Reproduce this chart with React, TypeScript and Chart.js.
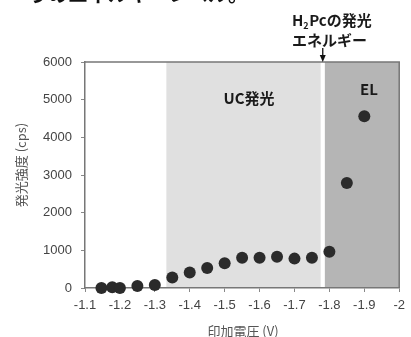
import React, { useEffect, useRef } from "react";
import { Chart, registerables } from "chart.js";

Chart.register(...registerables);

const voltages = [-1.147, -1.178, -1.2, -1.25, -1.3, -1.35, -1.4, -1.45, -1.5, -1.55, -1.6, -1.65, -1.7, -1.75, -1.8, -1.85, -1.9];
const intensities = [0, 20, 0, 50, 80, 280, 410, 530, 660, 800, 800, 830, 780, 800, 960, 2790, 4560];
const ucRegion = [-1.333, -1.775];
const elRegion = [-1.787, -2];
const h2pcEnergy = -1.781;
const xTicksRange = [-2, -1.1];
const yTicksRange = [0, 6000];

const xTitle = "印加電圧 (V)";
const yTitle = "発光強度 (cps)";
const ucLabel = "UC発光";
const elLabel = "EL";
const topFragment = "うのエネルギーレベル。";

const JP = '"Noto Sans CJK JP", "Liberation Sans", sans-serif';

const decorPlugin = {
  id: "decor",
  beforeDraw(chart: any) {
    const { ctx, chartArea, scales } = chart;
    const x = scales.x;
    ctx.save();
    const top = chartArea.top;
    const h = chartArea.bottom - chartArea.top;
    let x0 = x.getPixelForValue(ucRegion[0]);
    let x1 = x.getPixelForValue(ucRegion[1]);
    ctx.fillStyle = "#e0e0e0";
    ctx.fillRect(x0, top, x1 - x0, h);
    x0 = x.getPixelForValue(elRegion[0]);
    x1 = x.getPixelForValue(elRegion[1]);
    ctx.fillStyle = "#b5b5b5";
    ctx.fillRect(x0, top, x1 - x0, h);
    ctx.restore();
  },
  afterDraw(chart: any) {
    const { ctx, chartArea, scales } = chart;
    const x = scales.x;
    ctx.save();
    // frame top and right
    ctx.strokeStyle = "#777";
    ctx.lineWidth = 1.5;
    ctx.beginPath();
    ctx.moveTo(chartArea.left, chartArea.top);
    ctx.lineTo(chartArea.right, chartArea.top);
    ctx.lineTo(chartArea.right, chartArea.bottom);
    ctx.stroke();

    // region labels
    ctx.fillStyle = "#1a1a1a";
    ctx.font = `bold 15px ${JP}`;
    ctx.textAlign = "center";
    ctx.textBaseline = "middle";
    ctx.fillText(ucLabel, 249, 98);
    ctx.fillText(elLabel, 369, 89);

    // H2Pc annotation
    ctx.textAlign = "left";
    ctx.textBaseline = "alphabetic";
    let tx = 292;
    ctx.font = `bold 15px ${JP}`;
    ctx.fillText("H", tx, 26);
    tx += ctx.measureText("H").width;
    ctx.font = `bold 9px ${JP}`;
    ctx.fillText("2", tx, 29);
    tx += ctx.measureText("2").width + 0.5;
    ctx.font = `bold 15px ${JP}`;
    ctx.fillText("Pcの発光", tx, 26);
    ctx.fillText("エネルギー", 292, 46);

    // arrow
    const ax = x.getPixelForValue(h2pcEnergy);
    ctx.strokeStyle = "#111";
    ctx.lineWidth = 1.3;
    ctx.beginPath();
    ctx.moveTo(ax, 48);
    ctx.lineTo(ax, 58);
    ctx.stroke();
    ctx.fillStyle = "#111";
    ctx.beginPath();
    ctx.moveTo(ax - 3, 55);
    ctx.lineTo(ax + 3, 55);
    ctx.lineTo(ax, 62);
    ctx.closePath();
    ctx.fill();

    // axis titles
    ctx.fillStyle = "#555";
    ctx.font = `13px ${JP}`;
    ctx.textAlign = "center";
    ctx.textBaseline = "middle";
    ctx.fillText(xTitle, 243, 331);
    ctx.save();
    ctx.translate(21, 165);
    ctx.rotate(-Math.PI / 2);
    ctx.fillText(yTitle, 0, 0);
    ctx.restore();

    // clipped fragment of text above
    ctx.fillStyle = "#111";
    ctx.font = `bold 20px ${JP}`;
    ctx.textAlign = "left";
    ctx.textBaseline = "alphabetic";
    ctx.fillText(topFragment, 28, 1.5);
    ctx.restore();
  },
};

export default function App() {
  const ref = useRef<HTMLCanvasElement | null>(null);
  useEffect(() => {
    if (!ref.current) return;
    const chart = new Chart(ref.current, {
      type: "scatter",
      data: {
        datasets: [
          {
            data: voltages.map((v, i) => ({ x: v, y: intensities[i] })),
            backgroundColor: "#2b2b2b",
            borderWidth: 0,
            pointRadius: 6,
            pointHoverRadius: 6,
            clip: false as any,
          },
        ],
      },
      options: {
        responsive: false,
        animation: false,
        devicePixelRatio: 1,
        layout: { padding: { top: 62, right: 7, left: 0, bottom: 0 } },
        plugins: { legend: { display: false }, tooltip: { enabled: false } },
        scales: {
          x: {
            type: "linear",
            min: xTicksRange[0],
            max: xTicksRange[1],
            reverse: true,
            afterFit: (s: any) => {
              s.height = 49;
            },
            ticks: {
              stepSize: 0.1,
              color: "#444",
              padding: 6,
              maxRotation: 0,
              autoSkip: false,
              font: { family: '"Liberation Sans", Arial, sans-serif', size: 13 },
              callback: (v: any) => String(Number(Number(v).toFixed(1))),
            },
            grid: { drawOnChartArea: false, drawTicks: true, tickLength: 4, color: "#888" },
            border: { display: true, color: "#777", width: 1.5 },
          },
          y: {
            type: "linear",
            min: yTicksRange[0],
            max: yTicksRange[1],
            afterFit: (s: any) => {
              s.width = 85;
            },
            ticks: {
              stepSize: 1000,
              color: "#444",
              padding: 9,
              font: { family: '"Liberation Sans", Arial, sans-serif', size: 13 },
              callback: (v: any) => String(Math.round(Number(v))),
            },
            grid: { drawOnChartArea: false, drawTicks: true, tickLength: 4, color: "#888" },
            border: { display: true, color: "#777", width: 1.5 },
          },
        },
      },
      plugins: [decorPlugin],
    });
    return () => chart.destroy();
  }, []);
  return (
    <div style={{ position: "fixed", left: 0, top: 0, width: 411, height: 337, background: "#fff" }}>
      <canvas ref={ref} width={411} height={337} />
    </div>
  );
}
